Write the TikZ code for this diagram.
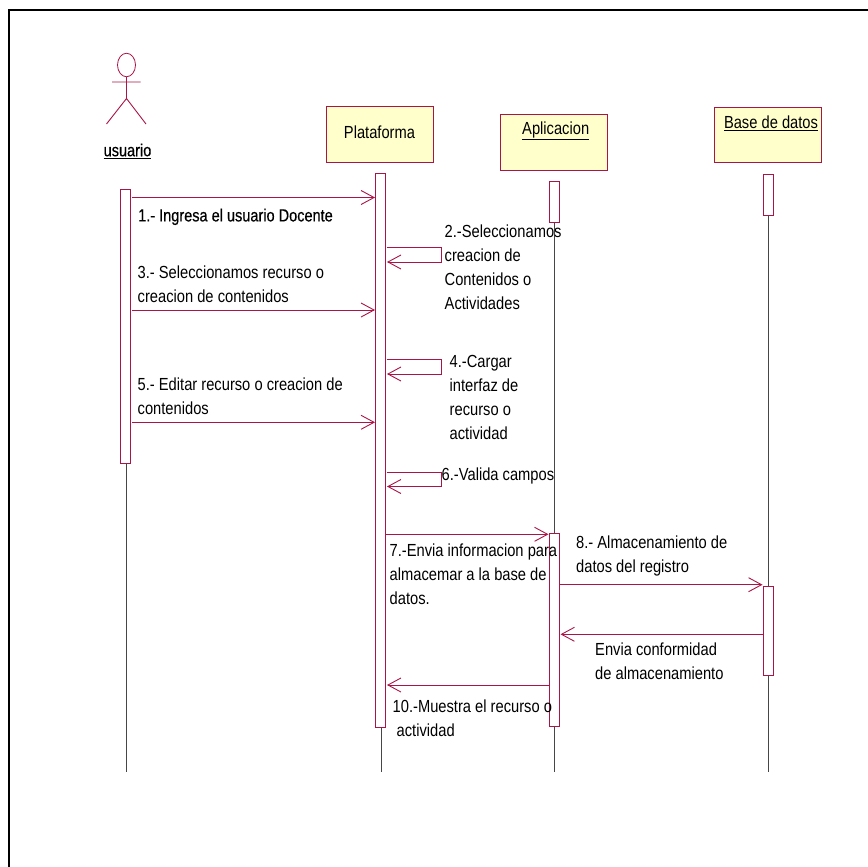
\documentclass[tikz,border=0pt]{standalone}
\usepackage{fontspec}
\setmainfont{Liberation Sans}[FakeStretch=0.84]
\newfontfamily\heavyfont{Liberation Sans}[FakeStretch=0.83,FakeBold=0.4]
\usetikzlibrary{arrows.meta,shapes.geometric}
\definecolor{umlline}{RGB}{170,20,70}
\definecolor{umlfill}{RGB}{255,255,204}
\definecolor{lifegray}{RGB}{70,70,70}
\tikzset{
	objbox/.style={draw=umlline,fill=umlfill,line width=1pt,minimum width=107pt,inner sep=0pt},
	bar/.style={draw=umlline,fill=white,line width=1pt,minimum width=10pt,inner sep=0pt},
	msg/.style={draw=umlline,line width=1pt,-{Straight Barb[length=13pt,width=14pt,line width=.9pt]}},
	life/.style={draw=lifegray,line width=.7pt},
	lbl/.style={inner sep=0pt,anchor=north west,align=left,font=\fontsize{17.5}{24}\selectfont},
	nametxt/.style={inner sep=0pt,font=\fontsize{17.5}{18}\selectfont}
}
\begin{document}
\begin{tikzpicture}[x=1pt,y=1pt]
	\useasboundingbox (0,0) rectangle (867,-867);
	% frame
	\draw [line width=2pt] (868,-10) -- (9,-10) -- (9,-868);
	% actor
	\node (head) [draw=umlline,line width=.8pt,ellipse,minimum width=18pt,minimum height=23.5pt,inner sep=0pt] at (126.5,-65) {};
	\coordinate (armL) at (112,-82);
	\coordinate (armR) at (140.5,-82);
	\coordinate (hip) at (126.5,-98.5);
	\coordinate (legL) at (106.5,-124);
	\coordinate (legR) at (146,-124);
	\draw [umlline,line width=.9pt] (head) -- (hip) (armL) -- (armR) (legL) -- (hip) -- (legR);
	\node (usuario) [nametxt] at (127.5,-151) {\heavyfont\underline{usuario}};
	% objects
	\node (plataforma) [objbox,minimum height=55.5pt] at (380.3,-134.7) {};
	\node (plataformaTxt) [nametxt] at (379.5,-132.5) {Plataforma};
	\node (aplicacion) [objbox,minimum height=55.5pt] at (553.8,-142.3) {};
	\node (aplicacionTxt) [nametxt] at (555.7,-131) {\underline{Aplicacion}};
	\node (basedatos) [objbox,minimum height=55pt] at (768,-134.5) {};
	\node (basedatosTxt) [nametxt] at (771,-123) {\underline{Base de datos}};
	% lifelines
	\coordinate (endU) at (126,-772);
	\coordinate (endP) at (381,-772);
	\coordinate (endA) at (554.5,-772);
	\coordinate (endB) at (768.5,-772);
	\draw [life] (126,-463) -- (endU);
	\draw [life] (381,-727) -- (endP);
	\draw [life] (554.5,-223) -- (endA);
	\draw [life] (768.5,-215) -- (endB);
	% activation bars
	\node (barU) [bar,minimum height=274pt] at (125.5,-326) {};
	\node (barP) [bar,minimum height=553.5pt] at (380.5,-450.7) {};
	\node (barA) [bar,minimum height=41.5pt] at (554,-202.2) {};
	\node (barB) [bar,minimum height=41pt] at (768,-194.5) {};
	\node (barA2) [bar,minimum height=193pt] at (554,-629.5) {};
	\node (barB2) [bar,minimum height=89pt] at (768,-631) {};
	% messages
	\coordinate (m1a) at (132,-197.5);
	\coordinate (m1b) at (barP.west |- m1a);
	\draw [msg] (m1a) -- (m1b);
	\coordinate (m3a) at (132,-310);
	\coordinate (m3b) at (barP.west |- m3a);
	\draw [msg] (m3a) -- (m3b);
	\coordinate (m5a) at (132,-422.3);
	\coordinate (m5b) at (barP.west |- m5a);
	\draw [msg] (m5a) -- (m5b);
	\coordinate (m2a) at (386.5,-247.8);
	\coordinate (m2b) at (441.7,-247.8);
	\coordinate (m2c) at (441.7,-262);
	\coordinate (m2d) at (387,-262);
	\draw [msg] (m2a) -- (m2b) -- (m2c) -- (m2d);
	\coordinate (m4a) at (386.5,-359.8);
	\coordinate (m4b) at (441.7,-359.8);
	\coordinate (m4c) at (441.7,-374);
	\coordinate (m4d) at (387,-374);
	\draw [msg] (m4a) -- (m4b) -- (m4c) -- (m4d);
	\coordinate (m6a) at (386.5,-472.3);
	\coordinate (m6b) at (441.7,-472.3);
	\coordinate (m6c) at (441.7,-486.5);
	\coordinate (m6d) at (387,-486.5);
	\draw [msg] (m6a) -- (m6b) -- (m6c) -- (m6d);
	\coordinate (m7a) at (386,-534.3);
	\coordinate (m7b) at (barA2.west |- m7a);
	\draw [msg] (m7a) -- (m7b);
	\coordinate (m8a) at (560,-584.7);
	\coordinate (m8b) at (barB2.west |- m8a);
	\draw [msg] (m8a) -- (m8b);
	\coordinate (m9a) at (barB2.west |- 0,-634.3);
	\coordinate (m9b) at (560.5,-634.3);
	\draw [msg] (m9a) -- (m9b);
	\coordinate (m10a) at (barA2.west |- 0,-685);
	\coordinate (m10b) at (387,-685);
	\draw [msg] (m10a) -- (m10b);
	% labels
	\node (t1) [lbl] at (138,-208.5) {\heavyfont 1.- Ingresa el usuario Docente};
	\node (t2) [lbl] at (444.5,-225) {2.-Seleccionamos\\creacion de\\Contenidos o\\Actividades};
	\node (t3) [lbl] at (137.5,-265.5) {3.- Seleccionamos recurso o\\creacion de contenidos};
	\node (t4) [lbl] at (449.5,-355) {4.-Cargar\\interfaz de\\recurso o\\actividad};
	\node (t5) [lbl] at (137.5,-377.5) {5.- Editar recurso o creacion de\\contenidos};
	\node (t6) [lbl] at (441.5,-467.5) {6.-Valida campos};
	\node (t7) [lbl] at (389.5,-544) {7.-Envia informacion para\\almacemar a la base de\\datos.};
	\node (t8) [lbl] at (576,-536) {8.- Almacenamiento de\\datos del registro};
	\node (t9) [lbl] at (595,-643) {Envia conformidad\\de almacenamiento};
	\node (t10) [lbl,align=left] at (392.5,-699.5) {10.-Muestra el recurso o\\\hspace{4pt}actividad};
\end{tikzpicture}
\end{document}
